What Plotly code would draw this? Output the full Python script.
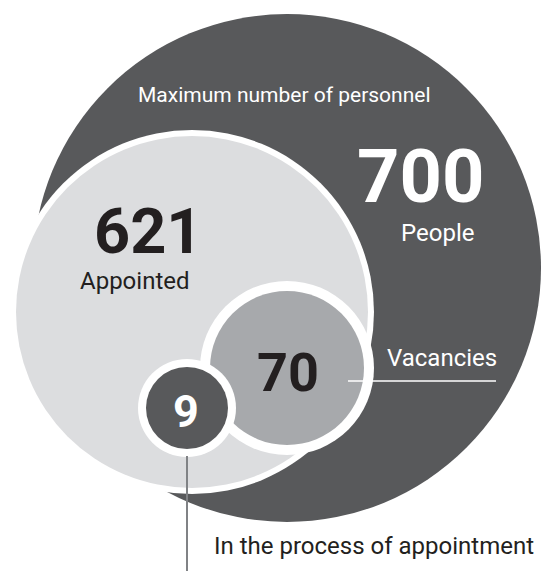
import plotly.graph_objects as go

W, H = 556, 571
# przegladarka dodaje 8 px marginesu body - kompensujemy zakresem osi
OFF = 8

# dane z obrazka
wartosci = [700, 621, 70, 9]
podpisy = ["People", "Appointed", "Vacancies", "In the process of appointment"]
tytul = "Maximum number of personnel"

CIEMNY = "#58595b"
JASNY = "#dcdddf"
SREDNI = "#a7a9ac"
TEKST = "#231f20"

# kola: (srodek x, srodek y, promien, grubosc bialej obwodki, kolor)
KOLA = [
    (287, 268, 254, 0, CIEMNY),
    (192, 312, 176, 6, JASNY),
    (287, 368, 77, 10, SREDNI),
    (187, 408, 41, 8, CIEMNY),
]


def kolo(cx, cy, r, kolor):
    return dict(type="circle", xref="x", yref="y",
                x0=cx - r, x1=cx + r, y0=cy - r, y1=cy + r,
                fillcolor=kolor, line=dict(width=0), layer="above")


ksztalty = []
for cx, cy, r, obw, kol in KOLA:
    if obw:
        ksztalty.append(kolo(cx, cy, r + obw, "white"))
    ksztalty.append(kolo(cx, cy, r, kol))

# linie odnosnikow
ksztalty.append(dict(type="line", xref="x", yref="y", x0=348, x1=496, y0=381, y1=381,
                     line=dict(color="white", width=1.5), layer="above"))
ksztalty.append(dict(type="line", xref="x", yref="y", x0=187, x1=187, y0=456, y1=H,
                     line=dict(color="#808285", width=2), layer="above"))

FONT = "Roboto"


def napis(x, y, tekst, rozmiar, kolor, gruby=False, xanchor="center"):
    if gruby:
        tekst = f"<b>{tekst}</b>"
    return dict(x=x, y=y, xref="x", yref="y", text=tekst, showarrow=False,
                xanchor=xanchor, yanchor="middle",
                font=dict(family=FONT, size=rozmiar, color=kolor))


adnotacje = [
    napis(284, 95, tytul, 21, "white"),
    napis(420, 176, str(wartosci[0]), 74, "white", gruby=True),
    napis(437, 233, podpisy[0], 24, "white"),
    napis(148, 231, str(wartosci[1]), 63, TEKST, gruby=True),
    napis(135, 281, podpisy[1], 24, TEKST),
    napis(288, 372, str(wartosci[2]), 54, TEKST, gruby=True),
    napis(442, 358, podpisy[2], 24, "white"),
    napis(374, 546, podpisy[3], 24, TEKST),
    napis(186, 411, str(wartosci[3]), 45, "white", gruby=True),
]

fig = go.Figure()
fig.update_layout(
    width=W - OFF, height=H - OFF,
    margin=dict(l=0, r=0, t=0, b=0),
    paper_bgcolor="white", plot_bgcolor="white",
    xaxis=dict(range=[OFF, W], visible=False, fixedrange=True),
    yaxis=dict(range=[H, OFF], visible=False, fixedrange=True),
    shapes=ksztalty,
    annotations=adnotacje,
    showlegend=False,
)
fig.write_html("out.html")
